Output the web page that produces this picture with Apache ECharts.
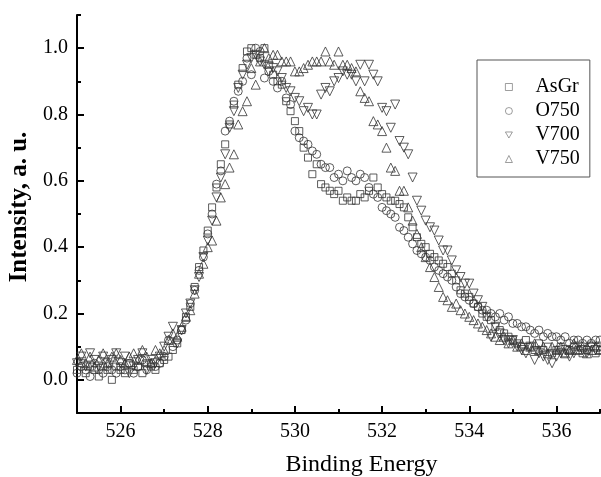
<!DOCTYPE html>
<html>
<head>
<meta charset="utf-8">
<script src="https://cdn.jsdelivr.net/npm/echarts@6/dist/echarts.min.js"></script>
<style>
  html, body { margin: 0; padding: 0; background: #fff; }
  #chart { width: 601px; height: 477px; }
</style>
</head>
<body>
<div id="chart"></div>
<script>
// O 1s spectra, sampled every 0.1 eV from 525.0 eV
const energyStart = 525.0;
const energyStep = 0.1;

const seriesNames = ['AsGr', 'O750', 'V700', 'V750'];

const asGr = [
  0.03, 0.05, 0.02, 0.04, 0.03, 0.01, 0.04, 0.03, 0.00, 0.04,
  0.03, 0.02, 0.05, 0.03, 0.04, 0.02, 0.05, 0.04, 0.03, 0.05,
  0.06, 0.07, 0.09, 0.11, 0.15, 0.19, 0.22, 0.28, 0.34, 0.39,
  0.45, 0.52, 0.58, 0.65, 0.71, 0.77, 0.83, 0.89, 0.94, 0.99,
  1.00, 0.98, 0.97, 1.00, 0.95, 0.92, 0.90, 0.89, 0.84, 0.81,
  0.78, 0.75, 0.70, 0.67, 0.62, 0.65, 0.59, 0.58, 0.57, 0.56,
  0.57, 0.54, 0.55, 0.54, 0.54, 0.56, 0.55, 0.57, 0.61, 0.58,
  0.56, 0.55, 0.54, 0.54, 0.53, 0.52, 0.49, 0.46, 0.43, 0.41,
  0.40, 0.38, 0.37, 0.36, 0.35, 0.34, 0.32, 0.30, 0.27, 0.26,
  0.25, 0.23, 0.22, 0.20, 0.19, 0.18, 0.16, 0.15, 0.14, 0.13,
  0.12, 0.11, 0.10, 0.12, 0.10, 0.09, 0.11, 0.09, 0.10, 0.08,
  0.09, 0.10, 0.08, 0.09, 0.10, 0.09, 0.08, 0.09, 0.10, 0.08,
  0.09
];

const o750 = [
  0.02, 0.04, 0.03, 0.01, 0.05, 0.03, 0.02, 0.04, 0.03, 0.02,
  0.04, 0.03, 0.05, 0.02, 0.04, 0.06, 0.03, 0.05, 0.04, 0.05,
  0.07, 0.12, 0.10, 0.12, 0.15, 0.18, 0.23, 0.27, 0.33, 0.37,
  0.44, 0.50, 0.59, 0.63, 0.75, 0.78, 0.84, 0.87, 0.90, 0.97,
  0.92, 1.00, 0.99, 0.91, 0.93, 0.90, 0.88, 0.90, 0.85, 0.83,
  0.75, 0.73, 0.72, 0.71, 0.69, 0.68, 0.65, 0.64, 0.64, 0.61,
  0.62, 0.60, 0.63, 0.61, 0.60, 0.62, 0.61, 0.58, 0.56, 0.55,
  0.52, 0.51, 0.50, 0.49, 0.46, 0.45, 0.43, 0.41, 0.39, 0.38,
  0.37, 0.36, 0.34, 0.33, 0.32, 0.31, 0.30, 0.28, 0.26, 0.25,
  0.24, 0.23, 0.22, 0.21, 0.21, 0.20, 0.19, 0.20, 0.18, 0.19,
  0.17, 0.17, 0.16, 0.16, 0.15, 0.14, 0.15, 0.13, 0.14, 0.13,
  0.13, 0.12, 0.13, 0.11, 0.12, 0.12, 0.11, 0.12, 0.11, 0.12,
  0.12
];

const v700 = [
  0.05, 0.07, 0.04, 0.08, 0.06, 0.04, 0.07, 0.05, 0.06, 0.08,
  0.05, 0.07, 0.02, 0.04, 0.06, 0.08, 0.03, 0.06, 0.05, 0.07,
  0.10, 0.13, 0.16, 0.11, 0.15, 0.20, 0.23, 0.27, 0.31, 0.37,
  0.42, 0.48, 0.55, 0.61, 0.68, 0.76, 0.81, 0.88, 0.92, 0.95,
  0.97, 0.98, 0.96, 0.95, 0.93, 0.94, 0.93, 0.91, 0.88, 0.87,
  0.85, 0.84, 0.81, 0.82, 0.80, 0.80, 0.86, 0.88, 0.87, 0.90,
  0.91, 0.93, 0.92, 0.92, 0.90, 0.95, 0.90, 0.95, 0.92, 0.90,
  0.82, 0.81, 0.76, 0.83, 0.72, 0.70, 0.68, 0.61, 0.54, 0.51,
  0.48, 0.46, 0.45, 0.42, 0.39, 0.39, 0.36, 0.33, 0.31, 0.29,
  0.29, 0.26, 0.24, 0.22, 0.19, 0.13, 0.16, 0.14, 0.12, 0.11,
  0.12, 0.10, 0.09, 0.08, 0.10, 0.06, 0.08, 0.07, 0.06, 0.05,
  0.07, 0.08, 0.09, 0.07, 0.08, 0.10, 0.09, 0.08, 0.10, 0.09,
  0.10
];

const v750 = [
  0.06, 0.08, 0.05, 0.07, 0.04, 0.06, 0.08, 0.05, 0.07, 0.08,
  0.06, 0.05, 0.07, 0.08, 0.06, 0.09, 0.07, 0.05, 0.09, 0.08,
  0.09, 0.12, 0.14, 0.13, 0.16, 0.19, 0.21, 0.26, 0.32, 0.35,
  0.40, 0.42, 0.48, 0.55, 0.59, 0.64, 0.68, 0.77, 0.81, 0.84,
  0.94, 0.89, 0.96, 1.00, 0.97, 0.98, 0.98, 0.96, 0.96, 0.96,
  0.93, 0.93, 0.94, 0.95, 0.96, 0.96, 0.96, 0.99, 0.96, 0.95,
  0.99, 0.95, 0.95, 0.94, 0.93, 0.87, 0.85, 0.84, 0.78, 0.77,
  0.75, 0.70, 0.64, 0.63, 0.57, 0.57, 0.52, 0.48, 0.44, 0.40,
  0.37, 0.34, 0.31, 0.28, 0.25, 0.24, 0.22, 0.23, 0.21, 0.20,
  0.19, 0.18, 0.17, 0.16, 0.15, 0.14, 0.13, 0.12, 0.13, 0.11,
  0.12, 0.10, 0.11, 0.09, 0.10, 0.11, 0.09, 0.10, 0.08, 0.10,
  0.09, 0.10, 0.08, 0.09, 0.11, 0.09, 0.10, 0.08, 0.09, 0.10,
  0.09
];

const xMajorTicks = [526, 528, 530, 532, 534, 536];
const xMinorTicks = [525, 527, 529, 531, 533, 535, 537];
const yMajorTicks = [0.0, 0.2, 0.4, 0.6, 0.8, 1.0];
const yMinorTicks = [0.1, 0.3, 0.5, 0.7, 0.9, 1.1];

const serifFont = '"Liberation Serif", "Times New Roman", serif';
const ink = '#000';
const markerInk = '#333';

// Downward-pointing triangle for the legend (plot marks use a rotated triangle)
const triangleDownPath = 'path://M0,0 L10,0 L5,8.66 Z';

function toPoints(values) {
  return values.map((v, i) => [+(energyStart + i * energyStep).toFixed(2), v]);
}

const markerStyles = [
  { symbol: 'rect', symbolSize: 7, symbolRotate: 0, legendIcon: 'rect' },
  { symbol: 'circle', symbolSize: 8, symbolRotate: 0, legendIcon: 'circle' },
  { symbol: 'triangle', symbolSize: 9, symbolRotate: 180, legendIcon: triangleDownPath },
  { symbol: 'triangle', symbolSize: 9, symbolRotate: 0, legendIcon: 'triangle' }
];
const seriesValues = [asGr, o750, v700, v750];

const chart = echarts.init(document.getElementById('chart'), null, { renderer: 'canvas' });

const baseX = {
  type: 'value', min: 525, max: 537, position: 'bottom',
  splitLine: { show: false }
};
const baseY = {
  type: 'value', min: -0.1, max: 1.1, position: 'left',
  splitLine: { show: false }
};

chart.setOption({
  animation: false,
  backgroundColor: '#fff',
  grid: { left: 77, right: 1, top: 15, bottom: 64, containLabel: false, outerBoundsMode: 'none' },
  xAxis: [
    Object.assign({}, baseX, {
      axisLine: { show: true, onZero: false, lineStyle: { color: ink, width: 2 } },
      axisTick: { show: true, inside: true, length: 7, customValues: xMajorTicks,
                  lineStyle: { color: ink, width: 2 } },
      axisLabel: { customValues: xMajorTicks, margin: 9, color: ink,
                   fontFamily: serifFont, fontSize: 20 },
      name: 'Binding Energy',
      nameLocation: 'middle',
      nameGap: 40,
      nameTextStyle: { fontFamily: serifFont, fontSize: 24, color: ink, padding: [0, 0, 0, 46] }
    }),
    Object.assign({}, baseX, {
      axisLine: { show: false, onZero: false },
      axisTick: { show: true, inside: true, length: 4, customValues: xMinorTicks,
                  lineStyle: { color: ink, width: 2 } },
      axisLabel: { show: false }
    })
  ],
  yAxis: [
    Object.assign({}, baseY, {
      axisLine: { show: true, onZero: false, lineStyle: { color: ink, width: 2 } },
      axisTick: { show: true, inside: true, length: 7, customValues: yMajorTicks,
                  lineStyle: { color: ink, width: 2 } },
      axisLabel: { customValues: yMajorTicks, margin: 9, color: ink,
                   fontFamily: serifFont, fontSize: 20,
                   formatter: v => Number(v).toFixed(1) },
      name: 'Intensity, a. u.',
      nameLocation: 'middle',
      nameGap: 40,
      nameTextStyle: { fontFamily: serifFont, fontSize: 25, fontWeight: 'bold', color: ink,
                       padding: [0, 0, 0, 14] }
    }),
    Object.assign({}, baseY, {
      axisLine: { show: false, onZero: false },
      axisTick: { show: true, inside: true, length: 4, customValues: yMinorTicks,
                  lineStyle: { color: ink, width: 2 } },
      axisLabel: { show: false }
    })
  ],
  legend: {
    orient: 'vertical',
    left: 477,
    top: 60,
    width: 112,
    padding: [17, 10, 8, 28],
    itemGap: 4,
    itemWidth: 7,
    itemHeight: 7,
    borderColor: '#555',
    borderWidth: 1,
    backgroundColor: '#fff',
    itemStyle: { color: 'rgba(255,255,255,0)', borderColor: '#666', borderWidth: 0.8 },
    textStyle: { fontFamily: serifFont, fontSize: 20, color: ink, padding: [0, 0, 0, 18] },
    data: seriesNames.map((name, k) => ({ name: name, icon: markerStyles[k].legendIcon }))
  },
  series: seriesNames.map((name, k) => ({
    name: name,
    type: 'scatter',
    xAxisIndex: 0,
    yAxisIndex: 0,
    data: toPoints(seriesValues[k]),
    symbol: markerStyles[k].symbol,
    symbolSize: markerStyles[k].symbolSize,
    symbolRotate: markerStyles[k].symbolRotate,
    itemStyle: { color: 'rgba(255,255,255,0)', borderColor: markerInk, borderWidth: 1 },
    emphasis: { disabled: true }
  }))
});
</script>
</body>
</html>
